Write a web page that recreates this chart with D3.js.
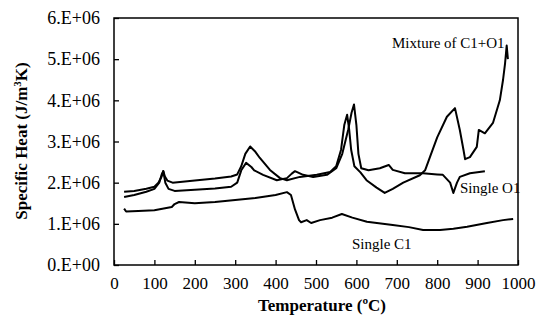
<!DOCTYPE html>
<html><head><meta charset="utf-8">
<script src="https://cdn.jsdelivr.net/npm/d3@7"></script>
<style>
body{margin:0;background:#fff;}
</style></head>
<body><svg id="c" width="543" height="321"></svg>
<script>
const xTicks=[0,100,200,300,400,500,600,700,800,900,1000];
const yTicks=[0,1e6,2e6,3e6,4e6,5e6,6e6];
const yTickLabels=["0.E+00","1.E+06","2.E+06","3.E+06","4.E+06","5.E+06","6.E+06"];
const mixT=[25,50,80,100,110,118,122,126,132,145,200,250,290,305,315,325,337,350,361,386,411,428,460,502,535,550,562,570,577,582,587,595,610,625,650,670,690,716,757,770,782,800,824,844,856,865,869,881,898,903,918,938,955,963,968,972,975];
const mixV=[1.78,1.8,1.85,1.9,2.0,2.15,2.28,2.15,2.05,2.0,2.05,2.1,2.15,2.2,2.4,2.7,2.88,2.75,2.6,2.31,2.11,2.06,2.14,2.19,2.26,2.4,2.8,3.4,3.65,3.3,2.8,2.4,2.25,2.06,1.88,1.75,1.85,2.0,2.18,2.3,2.62,3.1,3.6,3.81,3.28,2.8,2.57,2.62,2.87,3.28,3.2,3.45,4.0,4.5,4.9,5.33,5.0];
const o1T=[25,50,80,100,112,118,122,127,135,150,200,250,290,305,315,327,340,347,369,403,428,440,448,468,493,527,550,565,580,588,594,600,605,612,630,658,680,690,720,765,800,814,832,840,849,856,881,918];
const o1V=[1.65,1.7,1.78,1.85,2.0,2.2,2.28,2.0,1.85,1.8,1.83,1.86,1.9,2.0,2.3,2.48,2.38,2.3,2.19,2.06,2.11,2.22,2.28,2.19,2.14,2.19,2.35,2.7,3.3,3.7,3.9,3.4,2.7,2.35,2.3,2.35,2.43,2.31,2.23,2.23,2.2,2.19,2.0,1.75,2.0,2.14,2.23,2.28];
const c1T=[25,30,60,100,143,150,161,200,250,300,350,400,428,438,448,458,463,477,488,510,540,564,590,626,690,730,765,807,840,874,923,963,988];
const c1V=[1.37,1.30,1.31,1.33,1.41,1.48,1.53,1.50,1.53,1.58,1.63,1.70,1.77,1.70,1.35,1.09,1.04,1.09,1.02,1.09,1.15,1.24,1.15,1.05,0.97,0.92,0.85,0.85,0.88,0.93,1.02,1.09,1.12];

const FONT='"Liberation Serif","Times New Roman",serif';
const svg=d3.select("#c");
const L=114,R=518,T=18,B=265;
const x=d3.scaleLinear().domain([0,1000]).range([L,R]);
const y=d3.scaleLinear().domain([0,6e6]).range([B,T]);

const xAxis=svg.append("g").attr("transform",`translate(0,${B})`)
  .call(d3.axisBottom(x).tickValues(xTicks).tickFormat(d3.format("d")).tickSizeInner(-5).tickSizeOuter(0).tickPadding(12));
const yAxis=svg.append("g").attr("transform",`translate(${L},0)`)
  .call(d3.axisLeft(y).tickValues(yTicks).tickFormat((d,i)=>yTickLabels[i]).tickSizeInner(-5).tickSizeOuter(0).tickPadding(14));
[xAxis,yAxis].forEach(g=>{
  g.attr("font-family",null).attr("font-size",null);
  g.select(".domain").remove();
  g.selectAll("line").attr("stroke","#000").attr("stroke-width",1.3);
  g.selectAll("text").style("font-family",FONT).attr("fill","#000");
});
xAxis.selectAll("text").style("font-size","17px");
yAxis.selectAll("text").style("font-size","18px");
svg.append("rect").attr("x",L).attr("y",T).attr("width",R-L).attr("height",B-T)
  .attr("fill","none").attr("stroke","#000").attr("stroke-width",1.5);

const line=d3.line().x(d=>x(d[0])).y(d=>y(d[1]*1e6));
function draw(tt,vv){
  svg.append("path").datum(tt.map((t,i)=>[t,vv[i]])).attr("d",line)
    .attr("fill","none").attr("stroke","#000").attr("stroke-width",2).attr("stroke-linejoin","round");
}
draw(c1T,c1V);draw(o1T,o1V);draw(mixT,mixV);

function txt(xp,yp,s,size){
  return svg.append("text").attr("x",xp).attr("y",yp).style("font-family",FONT).style("font-size",size).text(s);
}
txt(392,48,"Mixture of C1+O1","15px");
txt(460,193,"Single O1","15px");
txt(352,249,"Single C1","15px");

txt(322,311,"Temperature (ºC)","17px").attr("text-anchor","middle").style("font-weight","bold");
const yt=svg.append("text").attr("transform","translate(27,141) rotate(-90)").attr("text-anchor","middle")
  .style("font-family",FONT).style("font-size","17px").style("font-weight","bold");
yt.append("tspan").text("Specific Heat (J/m");
yt.append("tspan").style("font-size","11px").attr("dy","-6").text("3");
yt.append("tspan").attr("dy","6").text("K)");
</script></body></html>
